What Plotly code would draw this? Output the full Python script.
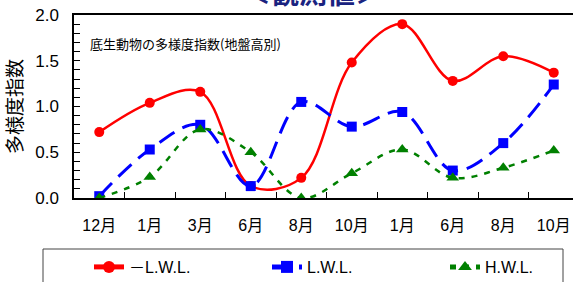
import plotly.graph_objects as go

months = ["12月", "1月", "3月", "6月", "8月", "10月", "1月", "6月", "8月", "10月"]
minus_lwl = [0.72, 1.04, 1.16, 0.13, 0.22, 1.48, 1.90, 1.28, 1.55, 1.37]
lwl = [0.02, 0.53, 0.80, 0.13, 1.05, 0.78, 0.94, 0.30, 0.60, 1.24]
hwl = [0.00, 0.23, 0.75, 0.50, 0.00, 0.27, 0.53, 0.22, 0.33, 0.52]
series_names = ["－L.W.L.", "L.W.L.", "H.W.L."]
y_ticks = [0.0, 0.5, 1.0, 1.5, 2.0]

x = list(range(len(months)))
W, H = 630, 282   # page window is 573 wide; the plot box runs past its right edge as in the reference
L, T, B = 74, 15, 84
pw, ph = W - L, H - T - B


def px_x(p):
    return (p - L) / pw


def px_y(p):
    return (H - B - p) / ph


fig = go.Figure()
fig.add_trace(go.Scatter(x=x, y=minus_lwl, name=series_names[0], mode="lines+markers",
                         line=dict(color="#FF0000", width=2.5, shape="spline", smoothing=1.0),
                         marker=dict(symbol="circle", size=10, color="#FF0000")))
fig.add_trace(go.Scatter(x=x, y=lwl, name=series_names[1], mode="lines+markers",
                         line=dict(color="#0000FF", width=3, shape="spline", smoothing=1.0, dash="18px,9px"),
                         marker=dict(symbol="square", size=10, color="#0000FF")))
fig.add_trace(go.Scatter(x=x, y=hwl, name=series_names[2], mode="lines+markers",
                         line=dict(color="#008000", width=2.5, shape="spline", smoothing=1.0, dash="6px,7px"),
                         marker=dict(symbol="triangle-up", size=11, color="#008000")))

xmax = -0.5 + pw / 50.5

fig.update_layout(
    width=W, height=H,
    margin=dict(l=L, r=0, t=T, b=B, autoexpand=False),
    paper_bgcolor="white", plot_bgcolor="white",
    font=dict(family="Liberation Sans, Arial, Noto Sans CJK JP", color="black"),
    xaxis=dict(range=[-0.5, xmax], tickmode="array", tickvals=x, ticktext=months,
               ticks="", showgrid=False, zeroline=False, automargin=False,
               showline=True, linecolor="black", linewidth=1.5, mirror=True,
               tickfont=dict(size=16, family="Liberation Sans, Noto Sans CJK JP"),
               ticklabelstandoff=12,
               minor=dict(tickmode="array", tickvals=[i + 0.5 for i in range(10)],
                          ticks="inside", ticklen=6, tickcolor="black", showgrid=False)),
    yaxis=dict(range=[0, 2.0], tickmode="array", tickvals=y_ticks,
               ticktext=[f"{v:.1f}" for v in y_ticks], automargin=False,
               ticks="inside", ticklen=6, tickcolor="black", showgrid=False, zeroline=False,
               showline=True, linecolor="black", linewidth=1.5,
               tickfont=dict(size=17, family="Liberation Sans, Arial"),
               ticklabelstandoff=10,
               minor=dict(dtick=0.1, ticks="inside", ticklen=6, tickcolor="black", showgrid=False),
               title=dict(text="多様度指数", standoff=8,
                          font=dict(size=19, family="Noto Sans CJK JP"))),
    legend=dict(orientation="h", x=px_x(89), xanchor="left",
                y=px_y(250), yanchor="top",
                borderwidth=0, bgcolor="rgba(0,0,0,0)",
                entrywidth=133, entrywidthmode="pixels",
                font=dict(size=16, family="Liberation Sans, Noto Sans CJK JP"),
                itemsizing="constant"),
    showlegend=True,
)

fig.add_shape(type="rect", xref="paper", yref="paper",
              x0=px_x(43), x1=px_x(563), y0=px_y(290), y1=px_y(249),
              line=dict(color="#444", width=1), fillcolor="rgba(0,0,0,0)", layer="below")

fig.add_annotation(text="底生動物の多様度指数(地盤高別)", xref="paper", yref="paper",
                   x=px_x(88), y=px_y(44), xanchor="left", yanchor="middle",
                   showarrow=False, font=dict(size=13, family="Noto Sans CJK JP"))
fig.add_annotation(text="＜観測値＞", xref="paper", yref="paper",
                   x=px_x(313), y=px_y(14), xanchor="center", yanchor="bottom",
                   showarrow=False,
                   font=dict(size=28, family="Noto Sans CJK JP", color="#1A2380", weight="bold"))

fig.write_html("out.html", config={"displayModeBar": False},
               post_script="document.body.style.margin='0';document.body.style.overflow='hidden';")
